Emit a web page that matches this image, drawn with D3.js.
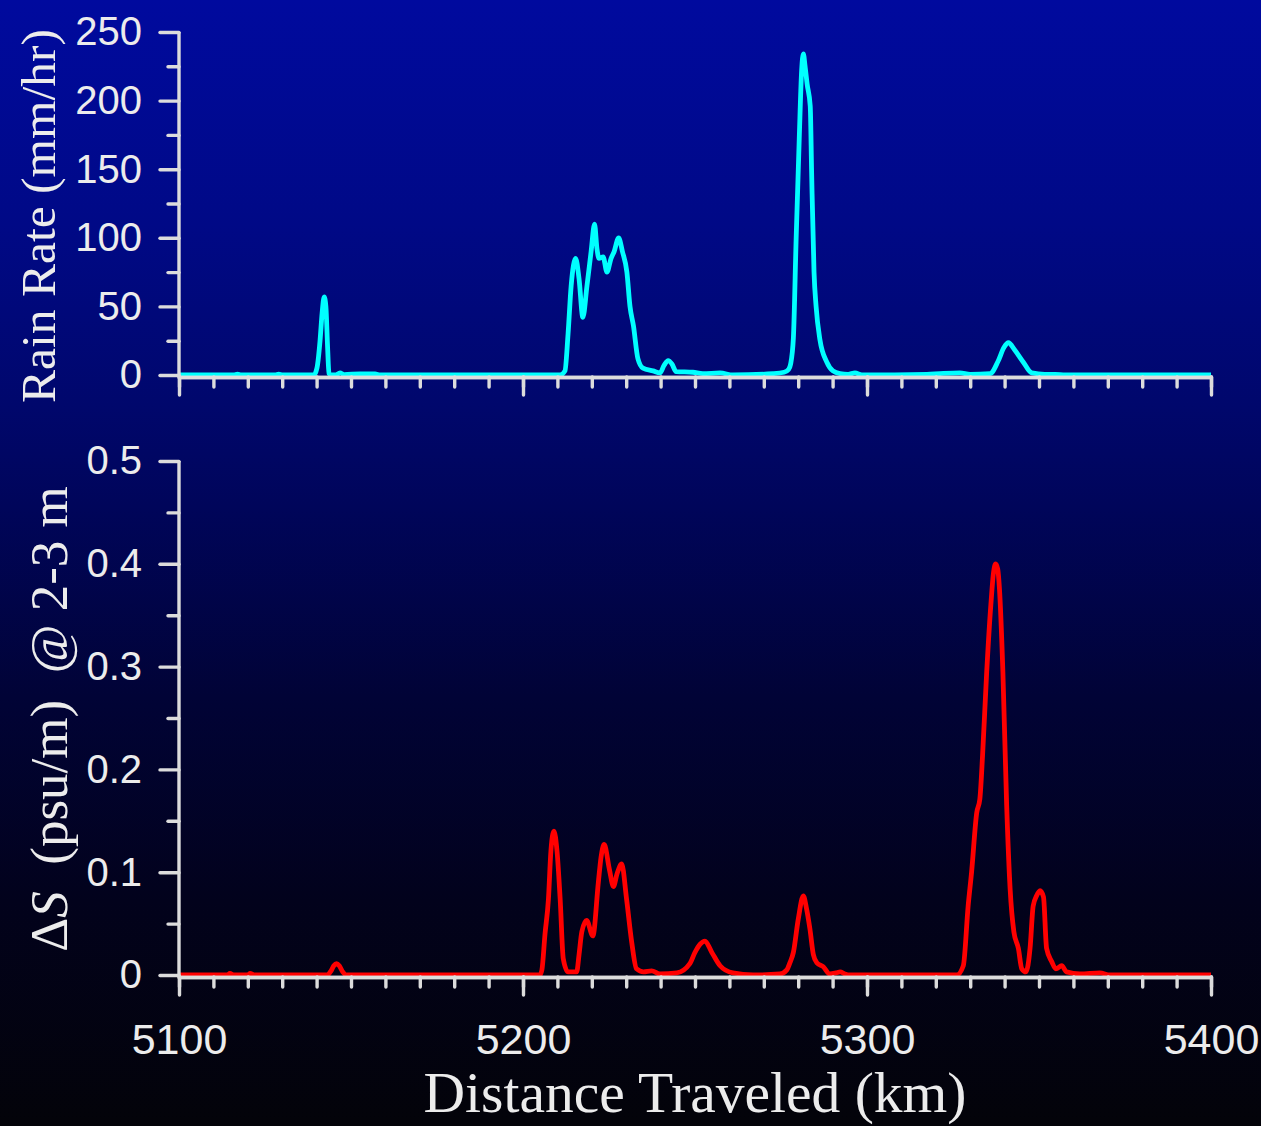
<!DOCTYPE html>
<html>
<head>
<meta charset="utf-8">
<script src="https://cdn.jsdelivr.net/npm/d3@7"></script>
<style>
  html, body { margin: 0; padding: 0; background: #000; }
  svg { display: block; }
</style>
</head>
<body>
<svg id="chart" width="1261" height="1126"></svg>
<script>
// Rain rate along the ship track (km, mm/hr)
const rainKm = [5100,5110,5116,5117,5118,5128,5129,5130,5139.2,5140.1,5141,5141.6,5142.2,5142.7,5143.2,5143.6,5144.2,
  5145.6,5146.8,5148,5152.6,5157,5158.4,5210.8,5212.2,5213.1,5214,5215.3,5216.3,5217.4,5218.6,5219.8,5220.8,5221.5,
  5222.1,5223.3,5224.4,5225.6,5226.5,5227.8,5228.9,5230.2,5231.1,5232.1,5233.4,5234.9,5237.8,5239.8,5241,5242.2,
  5243.3,5244.5,5249.4,5252.3,5257.3,5261,5272.7,5275.9,5277.2,5277.8,5278.6,5279.4,5280.3,5281,5281.5,5282,5282.6,
  5283.5,5283.9,5284.6,5285.2,5286.3,5288.3,5290.1,5292.2,5294.5,5296.5,5298.5,5317.4,5321.2,5327,5330,5335.8,
  5338.1,5339.8,5341.1,5343,5345.4,5347.9,5351.7,5354.7,5357.6,5400];
const rainRate = [0,0,0,0.6,0,0,0.6,0,0,5,25,45,57,50,20,1,0,
  0,1.5,0.3,0.8,0.8,0,0,3,30,65,85,70,42,65,90,110,92,
  85,86,75,85,90,100,90,75,50,36,12,5,3,1.5,7,10.5,
  8,2.5,2,1,1.5,0,1,2,4,8,27,99,172,222,234,225,212,
  196,148,75,50,26,9.5,3,1,0.5,1.5,0,0.5,1,1.5,0.5,1,
  10,20,23.5,18,9.5,1.5,0.5,0.5,0,0];

// Salinity difference between 2 m and 3 m (km, psu/m)
const salKm = [5100,5114,5114.8,5116,5120,5120.6,5122,5143,5144.2,5145,5145.8,5146.6,5147.6,5148.5,5204.9,5205.5,
  5206.4,5207.4,5208.1,5209,5209.9,5210.8,5211.7,5213.1,5215.6,5216.3,5217.1,5218.5,5220.3,5221.9,5222.7,5223.6,
  5225.1,5226.3,5227.3,5228.7,5230.1,5231.6,5233,5235,5237.4,5239.8,5244.7,5248.5,5250,5251.5,5252.9,5254.9,
  5257.3,5261,5266.9,5274.7,5276.7,5277.6,5278.6,5280,5281.5,5282.4,5283.4,5284.4,5285.4,5287.3,5289.2,5291,
  5292.2,5293.6,5295,5326.1,5328,5329.4,5330.4,5331.9,5332.8,5333.6,5334.8,5336,5336.8,5337.4,5338,5338.5,
  5339.5,5340.6,5341.6,5342.7,5344,5345,5346.2,5347.4,5348.3,5349.3,5350.3,5351.3,5352.2,5353.7,5354.9,
  5356.6,5358,5361.9,5367.7,5370.6,5400];
const salGrad = [0,0,0.0015,0,0,0.0015,0,0,0.004,0.009,0.011,0.009,0.003,0,0,0.005,
  0.04,0.074,0.12,0.14,0.12,0.074,0.016,0.003,0.003,0.02,0.042,0.053,0.038,0.09,0.115,0.127,
  0.103,0.086,0.098,0.108,0.074,0.032,0.006,0.003,0.004,0.001,0.002,0.011,0.022,0.03,0.033,0.022,
  0.009,0.002,0,0.001,0.005,0.012,0.022,0.054,0.077,0.065,0.045,0.02,0.012,0.008,0.001,0.002,
  0.003,0.001,0,0,0.009,0.067,0.1,0.158,0.171,0.214,0.295,0.36,0.392,0.4,0.395,0.376,
  0.295,0.165,0.084,0.042,0.026,0.006,0.003,0.026,0.067,0.077,0.082,0.076,0.026,0.013,0.006,
  0.009,0.003,0.001,0.002,0,0];

// Axis ticks and labels
const xMajor = [5100, 5200, 5300, 5400];
const xLabels = ["5100", "5200", "5300", "5400"];
const xMinor = d3.range(5100, 5401, 10);
const rainMajor = [0, 50, 100, 150, 200, 250];
const rainLabels = ["0", "50", "100", "150", "200", "250"];
const rainMinor = [25, 75, 125, 175, 225];
const salMajor = [0, 0.1, 0.2, 0.3, 0.4, 0.5];
const salLabels = ["0", "0.1", "0.2", "0.3", "0.4", "0.5"];
const salMinor = [0.05, 0.15, 0.25, 0.35, 0.45];

const svg = d3.select("#chart");
const W = 1261, H = 1126;

// Blue-to-black backdrop
const defs = svg.append("defs");
const grad = defs.append("linearGradient").attr("id", "bg").attr("x1", 0).attr("y1", 0).attr("x2", 0).attr("y2", 1);
[[0, "#000a9e"], [0.2, "#000986"], [0.36, "#00076c"], [0.45, "#00055a"], [0.62, "#010336"],
 [0.8, "#02021c"], [1, "#030309"]].forEach(([o, c]) => grad.append("stop").attr("offset", o).attr("stop-color", c));
svg.append("rect").attr("width", W).attr("height", H).attr("fill", "url(#bg)");

const x = d3.scaleLinear().domain([5100, 5400]).range([179, 1211]);
const yRain = d3.scaleLinear().domain([0, 250]).range([375, 32]);
const ySal = d3.scaleLinear().domain([0, 0.5]).range([975, 461]);

const axisColor = "#dcdcdc";
const labelColor = "#ececec";

function styleAxis(g) {
  g.selectAll("path.domain").attr("stroke", axisColor).attr("stroke-width", 3.4);
  g.selectAll(".tick line").attr("stroke", axisColor).attr("stroke-width", 3.4).attr("stroke-linecap", "round");
  g.selectAll(".tick text").attr("fill", labelColor).attr("font-family", "'Liberation Sans', Arial, sans-serif");
}

function drawPanel(yScale, km, vals, color, major, labels, minor, axisY, showXLabels) {
  // data line
  const line = d3.line().x((d, i) => x(km[i])).y((d) => yScale(d)).curve(d3.curveMonotoneX);
  svg.append("path").datum(vals).attr("d", line).attr("fill", "none")
    .attr("stroke", color).attr("stroke-width", 4.8).attr("stroke-linejoin", "round");

  // x axis: minor ticks then major
  const gxMinor = svg.append("g").attr("transform", `translate(0,${axisY})`)
    .call(d3.axisBottom(x).tickValues(xMinor).tickSize(10).tickSizeOuter(0).tickFormat(""));
  styleAxis(gxMinor);
  const gx = svg.append("g").attr("transform", `translate(0,${axisY})`)
    .call(d3.axisBottom(x).tickValues(xMajor).tickSize(18).tickSizeOuter(0).tickPadding(28)
      .tickFormat((d, i) => showXLabels ? xLabels[i] : ""));
  styleAxis(gx);
  gx.selectAll(".tick text").attr("font-size", 43);

  // y axis
  const gyMinor = svg.append("g").attr("transform", "translate(179,0)")
    .call(d3.axisLeft(yScale).tickValues(minor).tickSize(11).tickSizeOuter(0).tickFormat(""));
  styleAxis(gyMinor);
  gyMinor.select("path.domain").remove();
  const gy = svg.append("g").attr("transform", "translate(179,0)")
    .call(d3.axisLeft(yScale).tickValues(major).tickSize(19).tickSizeOuter(0).tickPadding(18)
      .tickFormat((d, i) => labels[i]));
  styleAxis(gy);
  gy.selectAll(".tick text").attr("font-size", 40);
  gy.select("path.domain").attr("d", `M0,${yScale.range()[1]}V${axisY + 1.5}`);
}

drawPanel(yRain, rainKm, rainRate, "#00ffff", rainMajor, rainLabels, rainMinor, 377, false);
drawPanel(ySal, salKm, salGrad, "#ff0000", salMajor, salLabels, salMinor, 977, true);

// Axis titles
const serif = "'Liberation Serif', 'Times New Roman', serif";
svg.append("text").attr("transform", "translate(55,216) rotate(-90)")
  .attr("text-anchor", "middle").attr("font-family", serif).attr("font-size", 49.5)
  .attr("fill", labelColor).text("Rain Rate (mm/hr)");

const ds = svg.append("text").attr("transform", "translate(67,719) rotate(-90)")
  .attr("text-anchor", "middle").attr("font-family", serif).attr("font-size", 53)
  .attr("fill", labelColor).style("white-space", "pre");
ds.append("tspan").text("\u0394");
ds.append("tspan").attr("font-style", "italic").text("S");
ds.append("tspan").text("\u00a0\u00a0(psu/m)\u00a0\u00a0@ 2-3 m");

svg.append("text").attr("x", 695).attr("y", 1112)
  .attr("text-anchor", "middle").attr("font-family", serif).attr("font-size", 57.5)
  .attr("fill", labelColor).text("Distance Traveled (km)");
</script>
</body>
</html>
